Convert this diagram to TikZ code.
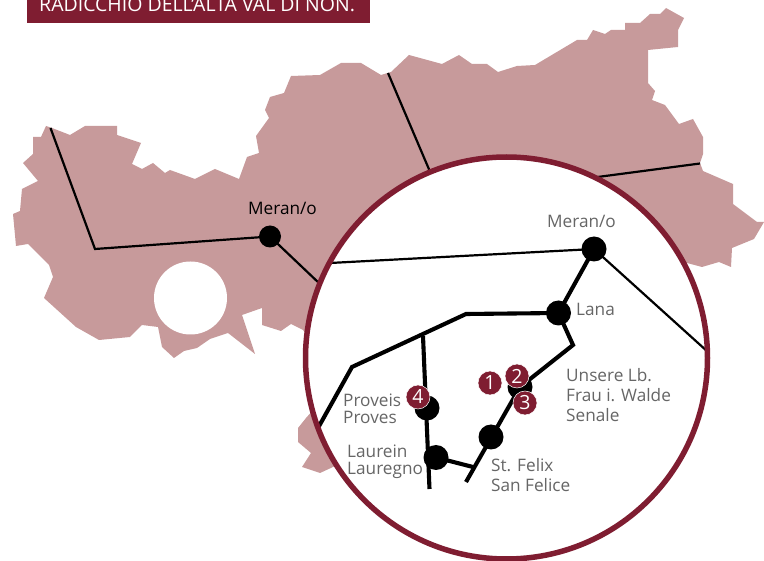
\documentclass[tikz,border=0pt]{standalone}
\usepackage{fontspec}
\setmainfont{Open Sans}
\definecolor{wine}{HTML}{7F1D31}
\definecolor{mapc}{HTML}{C79A9B}
\definecolor{labc}{HTML}{666666}
\tikzset{
  x=1pt,y=-1pt,
  thinline/.style={draw=black,line width=2.2pt,line join=miter},
  thickline/.style={draw=black,line width=4.1pt,line join=miter},
  dot/.style={circle,fill=black,inner sep=0pt,minimum size=#1},
  badge/.style={circle,fill=wine,draw=white,line width=0.5pt,inner sep=0pt,minimum size=24pt,text=white,font=\fontsize{19.5}{19.5}\selectfont},
  blacklab/.style={inner sep=0pt,anchor=base west,text=black,font=\fontsize{17.2}{18}\selectfont},
  lab/.style={inner sep=0pt,anchor=base west,align=left,text=labc,font=\fontsize{17.2}{#1}\selectfont},
}
\begin{document}
\begin{tikzpicture}
\useasboundingbox (0,0) rectangle (764,561);
% header
\begin{scope}
\clip (0,0) rectangle (764,561);
\fill[wine] (27,-5) rectangle (370,23.5);
\node[inner sep=0pt,anchor=base west,text=white,font=\fontsize{19.5}{20}\selectfont] (title) at (39,12) {RADICCHIO DELL’ALTA VAL DI NON.};
\end{scope}
% map
\fill[mapc] (46,126)--(52,128)--(70,135)--(85,126)--(117,126)--(117,135)--(141,143)--(132,164)--(142,169)--(153,163)--(165,173)--(170,170)--(195,179)--(215,169)--(239,179)--(247,157)--(259,153)--(256,136)--(269,118)--(265,110)--(270,97)--(284,93)--(291,76)--(320,75)--(341,63)--(361,63)--(381,75)--(391,72)--(409,55)--(442,64)--(459,55)--(472,64)--(487,64)--(498,72)--(517,66)--(535,65)--(577,40)--(587,40)--(593,30)--(605,34)--(611,30)--(625,30)--(625,23)--(640,23)--(650,14)--(660,14)--(666,8)--(684,18)--(678,30)--(678,47)--(648,50)--(648,83)--(655,91)--(652,100)--(665,105)--(679,124)--(693,119)--(703,137)--(703,154)--(700,163)--(703,171)--(733,184)--(733,204)--(757,222)--(764,222)--(754,239)--(732,248)--(731,267)--(719,262)--(702,267)--(687,263)--(500,400)--(333,467)--(320,473)--(302,467)--(311,453)--(298,442)--(298,428)--(306,418)--(340,380)--(303,330)--(291,324)--(281,331)--(262,325)--(262,308)--(242,315)--(255,354)--(228,333)--(210,339)--(197,348)--(184,351)--(174,358)--(162,347)--(158,327)--(142,325)--(130,337)--(99,340)--(76,327)--(44,298)--(53,277)--(49,265)--(28,244)--(16,246)--(13,214)--(20,211)--(22,189)--(38,181)--(23,163)--(33,154)--(33,137)--(41,137)--cycle;
\fill[white] (190.5,298) circle[radius=36.5];
% outer lines
\node[dot=22pt] (meranA) at (270,236.5) {};
\node[blacklab] (meranAlab) at (248,215) {Meran/o};
\coordinate (w1) at (50.5,128);
\coordinate (w2) at (95,249);
\coordinate (w3) at (320,284);
\coordinate (n1) at (388,73);
\coordinate (n2) at (431,174);
\coordinate (e1) at (700,163.5);
\coordinate (e2) at (590,178);
\draw[thinline] (w1)--(w2)--(meranA.center)--(w3);
\draw[thinline] (n1)--(n2);
\draw[thinline] (e1)--(e2);
% inset
\fill[white] (506.5,358) circle[radius=201];
\node[dot=25pt] (meranB) at (594,249) {};
\node[dot=25pt] (lana) at (558.5,313) {};
\node[dot=25pt] (senale) at (520,387) {};
\node[dot=25pt] (felix) at (491,437) {};
\node[dot=25pt] (laurein) at (436,457.5) {};
\node[dot=25pt] (proveis) at (427,408) {};
\coordinate (b1) at (330,263);
\coordinate (b2) at (708,352);
\coordinate (c1) at (466,314);
\coordinate (c2) at (352,367);
\coordinate (c3) at (318,428);
\coordinate (j1) at (423,336);
\coordinate (j2) at (429.5,489);
\coordinate (k1) at (573,345);
\coordinate (k2) at (466,482);
\coordinate (k3) at (473,467);
\draw[thinline] (b1)--(meranB.center)--(b2);
\draw[thickline] (meranB.center)--(lana.center)--(c1)--(c2)--(c3);
\draw[thickline] (j1)--(j2);
\draw[thickline] (lana.center)--(k1)--(senale.center)--(k2);
\draw[thickline] (laurein.center)--(k3);
\draw[wine,line width=5.5pt] (506.5,358) circle[radius=201];
% labels
\node[lab=20] (t1) at (547,228) {Meran/o};
\node[lab=20] (t2) at (576,316) {Lana};
\node[lab=20] (t3) at (566,422) {Unsere Lb.\\Frau i. Walde\\Senale};
\node[lab=17] (t4) at (343,424) {Proveis\\Proves};
\node[lab=17] (t5) at (347,475) {Laurein\\Lauregno};
\node[lab=20] (t6) at (491,492) {St. Felix\\San Felice};
% badges
\node[badge] (b-1) at (490,383) {1};
\node[badge] (b-2) at (517,376) {2};
\node[badge] (b-3) at (525,403) {3};
\node[badge] (b-4) at (418,397) {4};
\end{tikzpicture}
\end{document}
